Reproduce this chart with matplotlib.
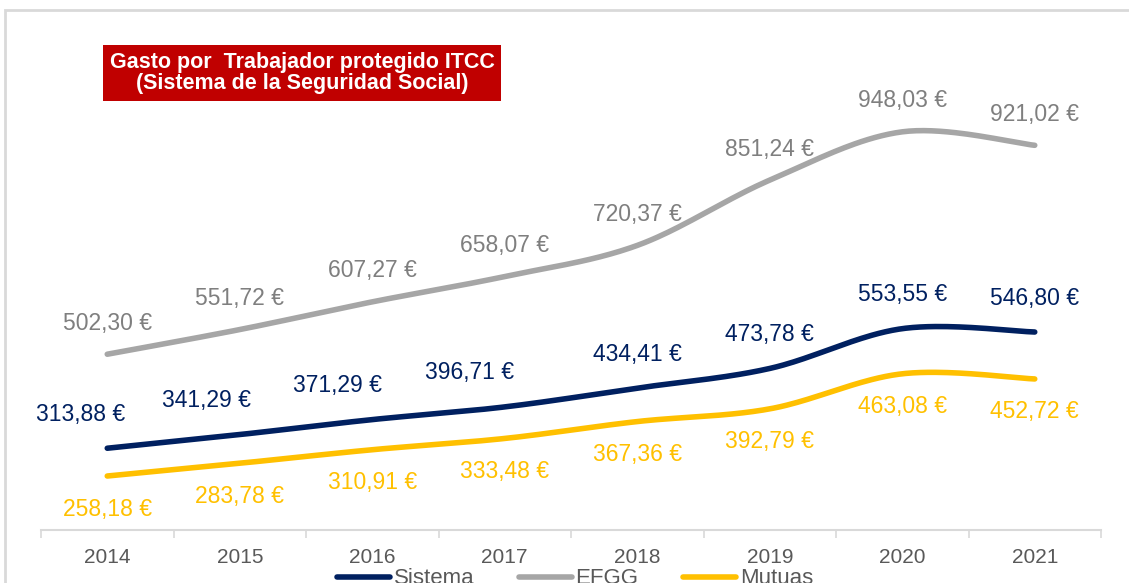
import numpy as np
import matplotlib.pyplot as plt
from matplotlib.patches import Rectangle

# data
years = ["2014", "2015", "2016", "2017", "2018", "2019", "2020", "2021"]
sistema = [313.88, 341.29, 371.29, 396.71, 434.41, 473.78, 553.55, 546.80]
efgg = [502.30, 551.72, 607.27, 658.07, 720.37, 851.24, 948.03, 921.02]
mutuas = [258.18, 283.78, 310.91, 333.48, 367.36, 392.79, 463.08, 452.72]

col_sis = "#002060"
col_efgg = "#A6A6A6"
col_efgg_txt = "#7F7F7F"
col_mut = "#FFC000"

plt.rcParams["font.family"] = ["Liberation Sans", "DejaVu Sans"]


def smooth(y, n=40):
    """Excel-style smoothed line: cubic Bezier between points with
    Catmull-Rom control points."""
    x = np.arange(len(y), dtype=float)
    pts = np.column_stack([x, np.asarray(y, dtype=float)])
    out = []
    for i in range(len(pts) - 1):
        p0 = pts[max(i - 1, 0)]
        p1 = pts[i]
        p2 = pts[i + 1]
        p3 = pts[min(i + 2, len(pts) - 1)]
        c1 = p1 + (p2 - p0) / 6
        c2 = p2 - (p3 - p1) / 6
        t = np.linspace(0, 1, n)[:, None]
        seg = ((1 - t) ** 3 * p1 + 3 * (1 - t) ** 2 * t * c1
               + 3 * (1 - t) * t ** 2 * c2 + t ** 3 * p2)
        out.append(seg if i == 0 else seg[1:])
    seg = np.vstack(out)
    return seg[:, 0], seg[:, 1]


def fmt(v):
    return f"{v:.2f}".replace(".", ",") + " €"


fig = plt.figure(figsize=(11.29, 5.83), dpi=100)

# light chart frame (cut at right and bottom like the screenshot)
fig.patches.append(Rectangle((5 / 1129, -0.1), 1.2, (583 - 10) / 583 + 0.1,
                             transform=fig.transFigure, fill=False,
                             edgecolor="#D9D9D9", linewidth=2))

ax = fig.add_axes([41 / 1129, 53 / 583, 1060 / 1129, 474 / 583])
ax.set_xlim(-0.5, len(years) - 0.5)
ax.set_ylim(150, 1100)

x = np.arange(len(years))
for vals, c, name in [(sistema, col_sis, "Sistema"),
                      (efgg, col_efgg, "EFGG"),
                      (mutuas, col_mut, "Mutuas")]:
    xs, ys = smooth(vals)
    ax.plot(xs, ys, color=c, linewidth=4, solid_capstyle="round", label=name)

# data labels
lbl_size = 16.5
sis_dx = [-27, -33, -35, -35, 0, 0, 0, 0]
for i, v in enumerate(efgg):
    ax.annotate(fmt(v), (x[i], v), xytext=(0, 31), textcoords="offset pixels",
                ha="center", va="center", fontsize=lbl_size, color=col_efgg_txt)
for i, v in enumerate(sistema):
    ax.annotate(fmt(v), (x[i], v), xytext=(sis_dx[i], 34), textcoords="offset pixels",
                ha="center", va="center", fontsize=lbl_size, color=col_sis)
for i, v in enumerate(mutuas):
    ax.annotate(fmt(v), (x[i], v), xytext=(0, -33), textcoords="offset pixels",
                ha="center", va="center", fontsize=lbl_size, color=col_mut)

# axes styling
for s in ["top", "right", "left"]:
    ax.spines[s].set_visible(False)
ax.spines["bottom"].set_color("#D9D9D9")
ax.spines["bottom"].set_linewidth(1.5)
ax.set_yticks([])
ax.set_xticks(x)
ax.set_xticklabels(years, fontsize=15, color="#595959")
ax.tick_params(axis="x", which="major", length=0, pad=13)
ax.set_xticks(np.arange(-0.5, len(years)), minor=True)
ax.tick_params(axis="x", which="minor", length=6, color="#D9D9D9", width=1.2)

# title box
fig.text(302 / 1129, 1 - 73 / 583,
         "Gasto por  Trabajador protegido ITCC\n(Sistema de la Seguridad Social)",
         ha="center", va="center", fontsize=15.5, fontweight="bold", color="white",
         linespacing=1.05,
         bbox=dict(boxstyle="square,pad=0.3", facecolor="#C00000", edgecolor="none"))

fig.legend(loc="center", bbox_to_anchor=(575 / 1129, 4 / 583), ncol=3,
           frameon=False, fontsize=16, handlelength=2.4, columnspacing=2.0,
           handletextpad=0.15, labelcolor="#595959")

fig.savefig("out.png", dpi=100)
